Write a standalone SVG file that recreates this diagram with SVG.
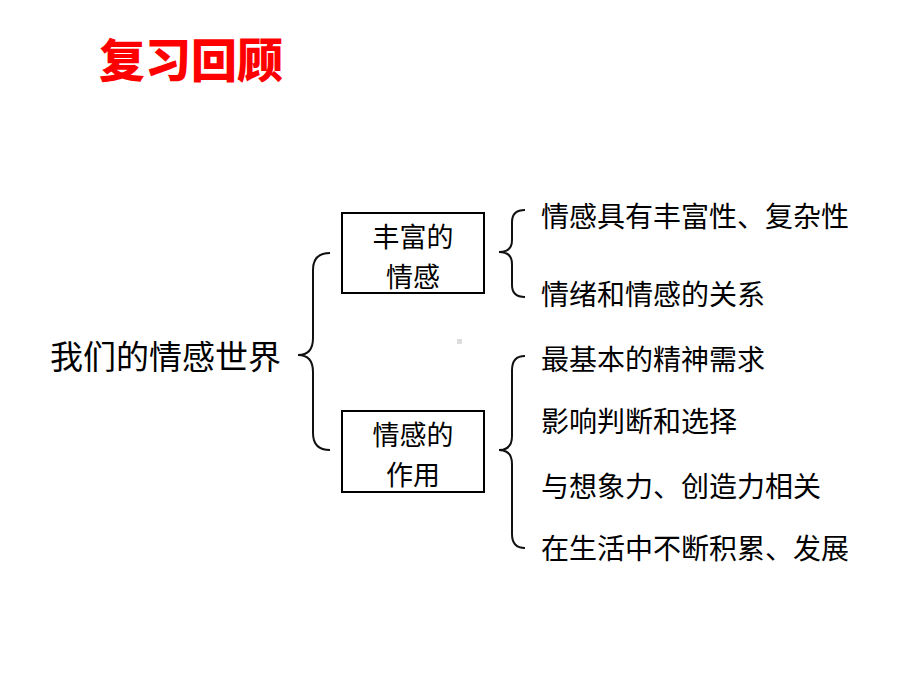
<svg xmlns="http://www.w3.org/2000/svg" width="920" height="690" viewBox="0 0 920 690">
<style>
text{font-family:"Noto Sans CJK SC","Microsoft YaHei",sans-serif;fill:#000;dominant-baseline:central}
.title{font-size:46px;font-weight:900;fill:#f00}
.root{font-size:33px}
.box{font-size:27px;text-anchor:middle}
.item{font-size:28px}
.frame{fill:#fff;stroke:#000;stroke-width:2}
.brace{fill:none;stroke:#111;stroke-width:2}
</style>
<rect width="920" height="690" fill="#fff"/>
<text class="title" x="99" y="57">复习回顾</text>
<g id="connectors">
<path class="brace" d="M330,253 Q313,253 313,270 L313,338 Q313,355 298,355 Q313,355 313,372 L313,433 Q313,450 330,450"/>
<path class="brace" d="M525,210 Q512,210 512,222 L512,240 Q512,252 499,252 Q512,252 512,264 L512,285 Q512,297 525,297"/>
<path class="brace" d="M525,356 Q512,356 512,370 L512,436 Q512,450 499,450 Q512,450 512,464 L512,534 Q512,548 525,548"/>
</g>
<g id="root"><text class="root" x="50" y="355">我们的情感世界</text></g>
<g id="node-rich">
<rect class="frame" x="342" y="213" width="142" height="80"/>
<text class="box" x="413" y="235">丰富的</text>
<text class="box" x="413" y="275">情感</text>
</g>
<g id="node-role">
<rect class="frame" x="342" y="411" width="142" height="81"/>
<text class="box" x="413" y="433">情感的</text>
<text class="box" x="413" y="473">作用</text>
</g>
<g id="items-rich">
<text class="item" x="541" y="215">情感具有丰富性、复杂性</text>
<text class="item" x="541" y="293">情绪和情感的关系</text>
</g>
<g id="items-role">
<text class="item" x="541" y="358">最基本的精神需求</text>
<text class="item" x="541" y="420">影响判断和选择</text>
<text class="item" x="541" y="485">与想象力、创造力相关</text>
<text class="item" x="541" y="547">在生活中不断积累、发展</text>
</g>
<rect x="457" y="339" width="5" height="5" fill="#ddd"/>
</svg>
